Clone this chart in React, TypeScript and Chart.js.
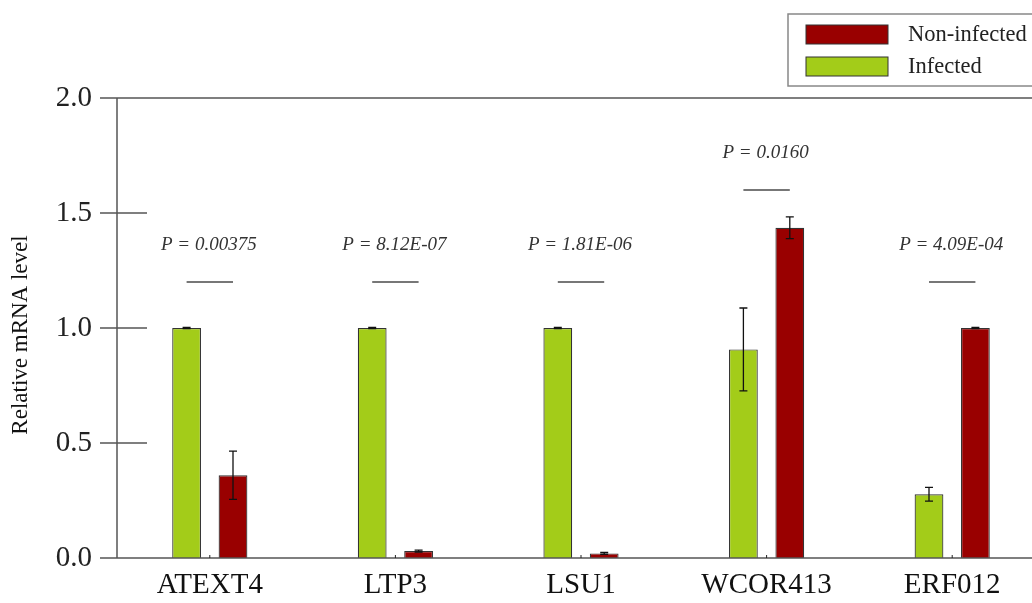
import React, { useEffect, useRef } from "react";
import { Chart, registerables } from "chart.js";
Chart.register(...registerables);

const categories = ["ATEXT4", "LTP3", "LSU1", "WCOR413", "ERF012"];
const infectedValues = [1.0, 1.0, 1.0, 0.907, 0.277];
const infectedErrors = [0.003, 0.003, 0.003, 0.18, 0.03];
const nonInfectedValues = [0.36, 0.03, 0.02, 1.436, 1.0];
const nonInfectedErrors = [0.105, 0.004, 0.004, 0.047, 0.003];
const pLabels = ["P = 0.00375", "P = 8.12E-07", "P = 1.81E-06", "P = 0.0160", "P = 4.09E-04"];
const pLineLevels = [1.2, 1.2, 1.2, 1.6, 1.2];
const yTickValues = [0, 0.5, 1.0, 1.5, 2.0];
const yTitle = "Relative mRNA level";
const legendOrder = [1, 0];

const GREEN = "#a3cc19";
const RED = "#990000";
const SERIF = "'Liberation Serif', 'Times New Roman', serif";

const overlay = {
  id: "overlay",
  afterDatasetsDraw(chart: any) {
    const ctx = chart.ctx;
    const ys = chart.scales.y;
    const errs = [infectedErrors, nonInfectedErrors];
    ctx.save();
    ctx.strokeStyle = "#111";
    ctx.lineWidth = 1.3;
    chart.data.datasets.forEach((ds: any, di: number) => {
      const meta = chart.getDatasetMeta(di);
      meta.data.forEach((bar: any, i: number) => {
        const v = ds.data[i];
        const e = errs[di][i];
        const yt = ys.getPixelForValue(v + e);
        const yb = ys.getPixelForValue(Math.max(0, v - e));
        ctx.beginPath();
        ctx.moveTo(bar.x, yt);
        ctx.lineTo(bar.x, yb);
        ctx.moveTo(bar.x - 4, yt);
        ctx.lineTo(bar.x + 4, yt);
        ctx.moveTo(bar.x - 4, yb);
        ctx.lineTo(bar.x + 4, yb);
        ctx.stroke();
      });
    });
    ctx.restore();
  },
  afterDraw(chart: any) {
    const ctx = chart.ctx;
    const { left, right, top, bottom } = chart.chartArea;
    const ys = chart.scales.y;
    const xs = chart.scales.x;
    ctx.save();
    ctx.strokeStyle = "#555";
    ctx.lineWidth = 1.5;
    ctx.beginPath();
    ctx.moveTo(left, top);
    ctx.lineTo(left, bottom);
    ctx.moveTo(left - 17, top);
    ctx.lineTo(right + 20, top);
    ctx.moveTo(left - 17, bottom);
    ctx.lineTo(right + 20, bottom);
    yTickValues.forEach((t) => {
      const py = ys.getPixelForValue(t);
      ctx.moveTo(left - 17, py);
      ctx.lineTo(left + 30, py);
    });
    ctx.stroke();
    ctx.strokeStyle = "#222";
    ctx.lineWidth = 1;
    ctx.beginPath();
    categories.forEach((_, i) => {
      const px = xs.getPixelForValue(i);
      ctx.moveTo(px, bottom);
      ctx.lineTo(px, bottom - 3);
    });
    ctx.stroke();
    const m0 = chart.getDatasetMeta(0);
    const m1 = chart.getDatasetMeta(1);
    categories.forEach((_, i) => {
      const ly = ys.getPixelForValue(pLineLevels[i]);
      const x0 = m0.data[i].x;
      const x1 = m1.data[i].x;
      ctx.strokeStyle = "#777";
      ctx.lineWidth = 2;
      ctx.beginPath();
      ctx.moveTo(x0, ly);
      ctx.lineTo(x1, ly);
      ctx.stroke();
      ctx.fillStyle = "#333";
      ctx.font = "italic 19px " + SERIF;
      ctx.textAlign = "center";
      ctx.textBaseline = "middle";
      ctx.fillText(pLabels[i], (x0 + x1) / 2 - 1, ly - 37);
    });
    ctx.save();
    ctx.translate(21, (top + bottom) / 2 + 7);
    ctx.rotate(-Math.PI / 2);
    ctx.fillStyle = "#111";
    ctx.font = "23px " + SERIF;
    ctx.textAlign = "center";
    ctx.textBaseline = "middle";
    ctx.fillText(yTitle, 0, 0);
    ctx.restore();
    ctx.strokeStyle = "#888";
    ctx.lineWidth = 1.5;
    ctx.strokeRect(788, 14, 270, 72);
    legendOrder.forEach((di, k) => {
      const ds = chart.data.datasets[di];
      const yy = 25 + k * 32;
      ctx.fillStyle = ds.backgroundColor;
      ctx.fillRect(806, yy, 82, 19);
      ctx.strokeStyle = "#333";
      ctx.lineWidth = 1;
      ctx.strokeRect(806, yy, 82, 19);
      ctx.fillStyle = "#222";
      ctx.font = "22.5px " + SERIF;
      ctx.textAlign = "left";
      ctx.textBaseline = "middle";
      ctx.fillText(ds.label, 908, yy + 10);
    });
    ctx.restore();
  },
};

export default function App() {
  const ref = useRef<HTMLCanvasElement | null>(null);
  useEffect(() => {
    if (!ref.current) return;
    const chart = new Chart(ref.current, {
      type: "bar",
      data: {
        labels: categories,
        datasets: [
          {
            label: "Infected",
            data: infectedValues,
            backgroundColor: GREEN,
            borderColor: "#333",
            borderWidth: 1.2,
          },
          {
            label: "Non-infected",
            data: nonInfectedValues,
            backgroundColor: RED,
            borderColor: "#333",
            borderWidth: 1.2,
          },
        ],
      },
      options: {
        responsive: false,
        animation: false,
        devicePixelRatio: 1,
        layout: { padding: { top: 98, left: 0, right: 0, bottom: 0 } },
        datasets: { bar: { categoryPercentage: 0.5, barPercentage: 0.62 } },
        plugins: { legend: { display: false }, tooltip: { enabled: false } },
        scales: {
          x: {
            grid: { display: false, drawTicks: false },
            border: { display: false },
            ticks: {
              font: { family: SERIF, size: 29 },
              color: "#111",
              padding: 10,
            },
            afterFit: (s: any) => {
              s.height = 45;
            },
          },
          y: {
            min: 0,
            max: 2,
            grid: { display: false, drawTicks: false },
            border: { display: false },
            afterBuildTicks: (s: any) => {
              s.ticks = yTickValues.map((v) => ({ value: v }));
            },
            ticks: {
              font: { family: SERIF, size: 29 },
              color: "#222",
              padding: 25,
              callback: (v: any) => Number(v).toFixed(1),
            },
            afterFit: (s: any) => {
              s.width = 117;
            },
          },
        },
      },
      plugins: [overlay],
    });
    return () => chart.destroy();
  }, []);
  return (
    <div
      style={{
        position: "fixed",
        left: 0,
        top: 0,
        width: 1032,
        height: 603,
        overflow: "hidden",
        background: "#fff",
      }}
    >
      <canvas ref={ref} width={1045} height={603} style={{ display: "block" }} />
    </div>
  );
}
